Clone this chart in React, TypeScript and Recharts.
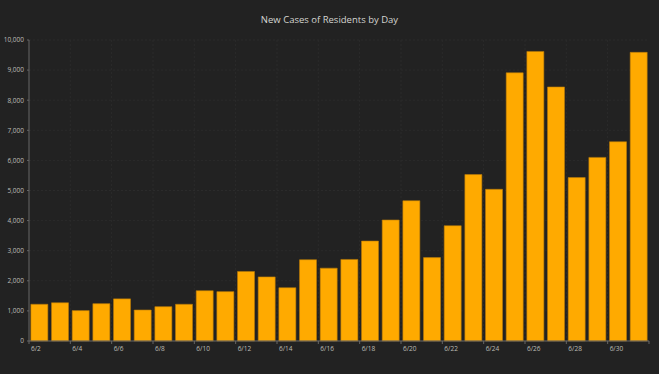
import React from 'react';
import { BarChart, Bar, XAxis, YAxis, CartesianGrid } from 'recharts';

const days = [
  '6/2', '6/3', '6/4', '6/5', '6/6', '6/7', '6/8', '6/9', '6/10', '6/11',
  '6/12', '6/13', '6/14', '6/15', '6/16', '6/17', '6/18', '6/19', '6/20', '6/21',
  '6/22', '6/23', '6/24', '6/25', '6/26', '6/27', '6/28', '6/29', '6/30', '7/1',
];
const newCases = [
  1220, 1270, 1010, 1240, 1400, 1030, 1140, 1220, 1670, 1640,
  2310, 2130, 1770, 2700, 2420, 2710, 3320, 4020, 4660, 2770,
  3830, 5530, 5040, 8910, 9620, 8440, 5430, 6100, 6620, 9590,
];
const yTicks = [0, 1000, 2000, 3000, 4000, 5000, 6000, 7000, 8000, 9000, 10000];

const W = 659;
const H = 374;
const MARGIN = { top: 40, right: 10, bottom: 0, left: 0 };
const Y_WIDTH = 29;
const X_HEIGHT = 33;
const PLOT_W = W - MARGIN.left - MARGIN.right - Y_WIDTH;
const BAND = PLOT_W / days.length;

const data = days.map((d, i) => ({ day: d, cases: newCases[i] }));

const fontFamily = '"Open Sans", "Noto Sans", sans-serif';

const DayTick = (props: any) => {
  const { x, y, payload } = props;
  const left = x - BAND / 2;
  const isLast = payload.index === days.length - 2;
  return (
    <g>
      <line x1={left} y1={y} x2={left} y2={y + 3} stroke="#666" strokeWidth={1} />
      {isLast && <line x1={left + 2 * BAND} y1={y} x2={left + 2 * BAND} y2={y + 3} stroke="#666" strokeWidth={1} />}
      <text x={left + 2} y={y + 10} fill="#bdbdb5" fontSize={6.5} fontFamily={fontFamily} textAnchor="start">
        {payload.value}
      </text>
    </g>
  );
};

const App: React.FC = () => {
  return (
    <div style={{ position: 'absolute', left: 0, top: 0, width: W, height: H, background: '#222222' }}>
      <div
        style={{
          position: 'absolute', left: 0, top: 13, width: W, textAlign: 'center',
          color: '#d4d4d0', fontSize: 9.5, fontFamily,
        }}
      >
        New Cases of Residents by Day
      </div>
      <BarChart width={W} height={H} data={data} margin={MARGIN} barCategoryGap="9%">
        <CartesianGrid
          stroke="#2b2b2b"
          strokeDasharray="2 2"
          verticalCoordinatesGenerator={({ offset }: any) =>
            days.map((_, i) => offset.left + i * (offset.width / days.length)).filter((_, i) => i % 2 === 0 && i > 0)
          }
        />
        <XAxis
          dataKey="day"
          interval={1}
          height={X_HEIGHT}
          tickSize={0}
          tickMargin={0}
          tickLine={false}
          axisLine={{ stroke: '#666' }}
          tick={<DayTick />}
        />
        <YAxis
          width={Y_WIDTH}
          domain={[0, 10000]}
          ticks={yTicks}
          interval={0}
          tickSize={2}
          tickMargin={3}
          tickLine={{ stroke: '#666' }}
          axisLine={{ stroke: '#666' }}
          tick={{ fill: '#bdbdb5', fontSize: 6.5, fontFamily }}
          tickFormatter={(v: number) => v.toLocaleString('en-US')}
        />
        <Bar dataKey="cases" fill="#FFAA00" stroke="#b87a08" strokeWidth={0.6} isAnimationActive={false} />
      </BarChart>
    </div>
  );
};

export default App;
